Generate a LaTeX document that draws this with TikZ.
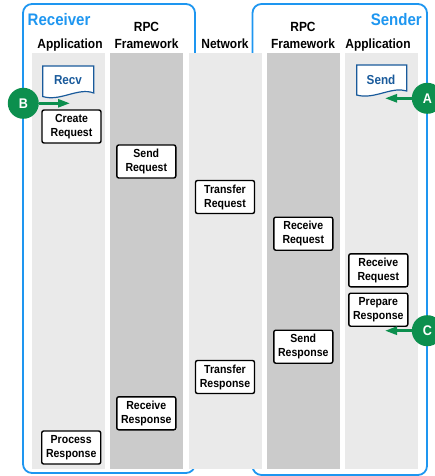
\documentclass[tikz,border=0pt]{standalone}
\usepackage{fontspec}
\setmainfont[FakeStretch=0.9]{Liberation Sans}
\usetikzlibrary{arrows.meta, positioning, calc}

\definecolor{frameblue}{RGB}{30,150,240}
\definecolor{docblue}{RGB}{25,90,155}
\definecolor{markgreen}{RGB}{12,143,78}
\definecolor{lanelight}{RGB}{234,234,234}
\definecolor{lanedark}{RGB}{203,203,203}

\tikzset{
  side/.style={draw=frameblue, line width=1.8pt, rounded corners=9pt},
  sidetitle/.style={text=frameblue, font=\bfseries\fontsize{16.7}{18}\selectfont, inner sep=0pt},
  lanehead/.style={font=\bfseries\fontsize{13.3}{15}\selectfont, inner sep=0pt, anchor=base},
  stepbox/.style={draw, fill=white, line width=1.4pt, rounded corners=2pt, minimum width=59pt, minimum height=33pt, inner sep=0pt, align=center, font=\bfseries\fontsize{11.7}{14}\selectfont},
  docpage/.style={draw=docblue, fill=white, line width=1.2pt},
  doctext/.style={text=docblue, font=\bfseries\fontsize{13}{15}\selectfont, inner sep=0pt},
  marker/.style={circle, fill=markgreen, minimum size=31pt, inner sep=0pt, text=white, font=\bfseries\fontsize{14}{16}\selectfont},
  trigger/.style={draw=markgreen, line width=2.6pt, -{Triangle[length=12pt, width=8pt]}},
}

\begin{document}
\begin{tikzpicture}[x=1pt, y=-1pt]
  \useasboundingbox (0,0) rectangle (435,476);

  % Receiver and sender frames
  \draw[side] (23,4) rectangle (195,473);
  \draw[side] (252.5,4) rectangle (427,475);
  \node[sidetitle, anchor=base west] (receiver) at (27.5,25.7) {Receiver};
  \node[sidetitle, anchor=base east] (sender) at (422,25.7) {Sender};

  % Lanes
  \foreach \x/\shade in {32/lanelight, 110/lanedark, 189/lanelight, 267/lanedark, 345/lanelight} {
    \fill[\shade] (\x,53) rectangle ++(73,416);
  }

  % Lane headings
  \node[lanehead] (apprecv) at (70,48.5) {Application};
  \node[lanehead] (rpcrecv) at (146.5,31.7) {RPC};
  \node[lanehead] (fwrecv) at (146.5,48.5) {Framework};
  \node[lanehead] (network) at (225,48.5) {Network};
  \node[lanehead] (rpcsend) at (303,31.7) {RPC};
  \node[lanehead] (fwsend) at (303,48.5) {Framework};
  \node[lanehead] (appsend) at (378,48.5) {Application};

  % Documents
  \draw[docpage] (42.7,66) -- (93.7,66) -- (93.7,93) .. controls (78,87) and (60,102) .. (42.7,96.5) -- cycle;
  \node[doctext] (recv) at (68,80) {Recv};
  \draw[docpage] (356.7,65) -- (406.7,65) -- (406.7,91) .. controls (392,86) and (374,100) .. (356.7,95) -- cycle;
  \node[doctext] (send) at (381,80) {Send};

  % Steps
  \node[stepbox] (create) at (71.5,126.5) {Create\\Request};
  \node[stepbox] (sendreq) at (146.3,161.5) {Send\\Request};
  \node[stepbox] (xferreq) at (225,197) {Transfer\\Request};
  \node[stepbox] (rcvreqrpc) at (303.3,233.7) {Receive\\Request};
  \node[stepbox] (rcvreqapp) at (378.3,270.3) {Receive\\Request};
  \node[stepbox, below=5pt of rcvreqapp] (prepresp) {Prepare\\Response};
  \node[stepbox] (sendresp) at (303.3,346.7) {Send\\Response};
  \node[stepbox] (xferresp) at (225,377) {Transfer\\Response};
  \node[stepbox] (rcvresp) at (146.3,413.3) {Receive\\Response};
  \node[stepbox] (procresp) at (71.2,447.5) {Process\\Response};

  % Markers
  \node[marker] (markB) at (23.3,103.3) {B};
  \node[marker] (markA) at (427.3,98.3) {A};
  \node[marker] (markC) at (427.3,330.7) {C};
  \coordinate (tipB) at (70,103.3);
  \coordinate (tipA) at (385,98.3);
  \coordinate (tipC) at (385,330.7);
  \draw[trigger] (markB) -- (tipB);
  \draw[trigger] (markA) -- (tipA);
  \draw[trigger] (markC) -- (tipC);
\end{tikzpicture}
\end{document}
